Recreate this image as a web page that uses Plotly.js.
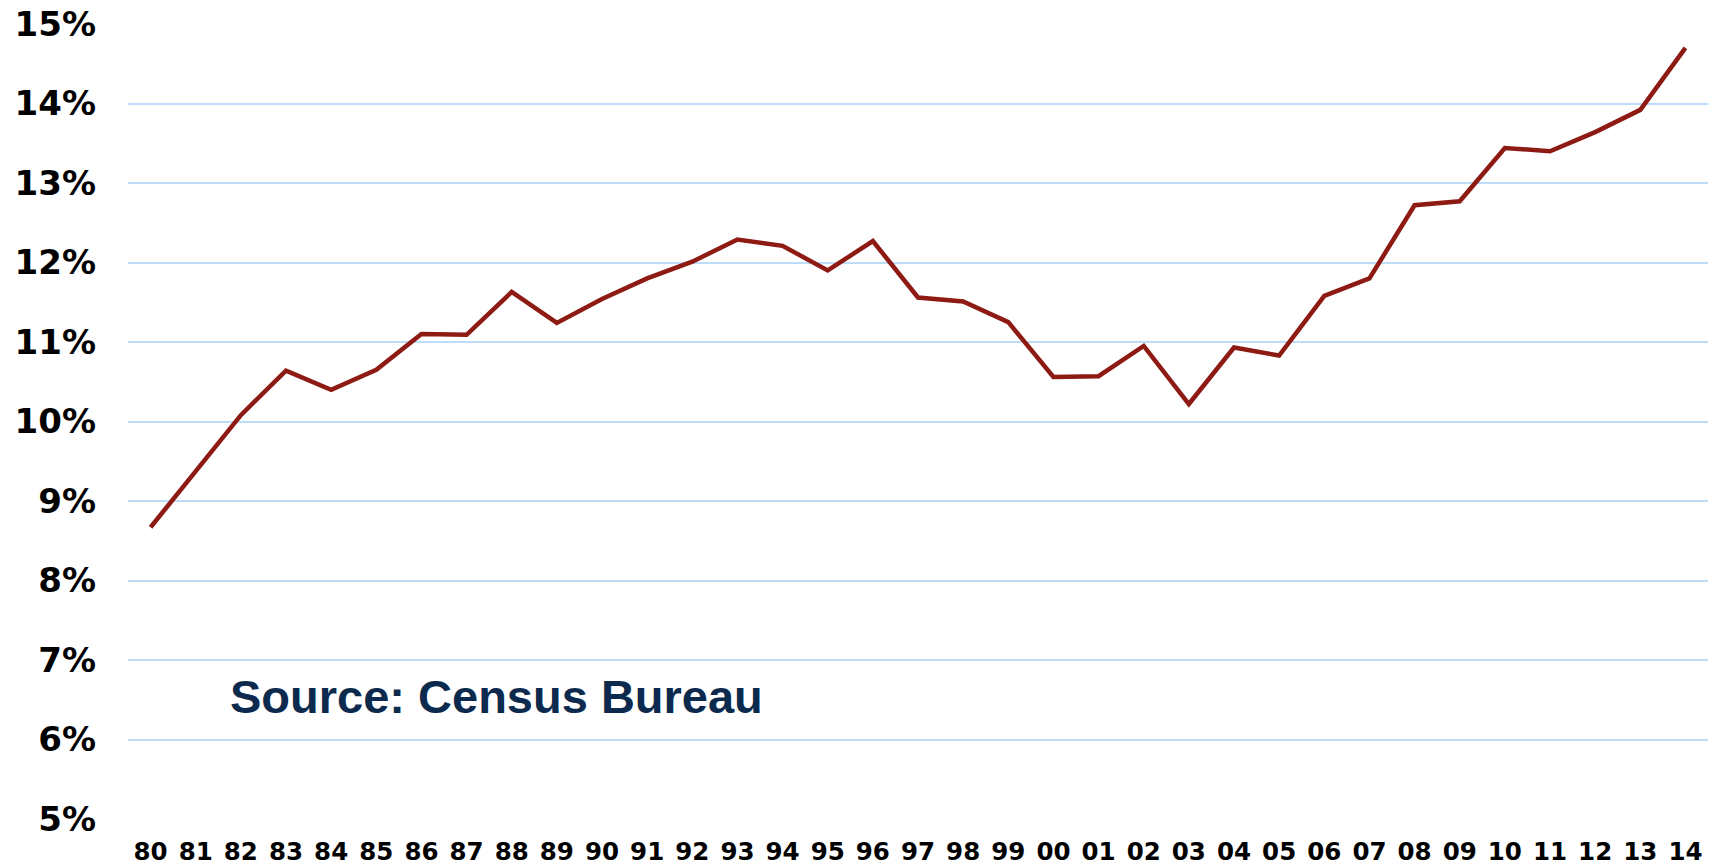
<!DOCTYPE html>
<html>
<head>
<meta charset="utf-8">
<script src="https://cdn.plot.ly/plotly-3.0.1.min.js"></script>
<style>
  html, body { margin: 0; padding: 0; background: #ffffff; }
  #chart { width: 1719px; height: 868px; }
</style>
</head>
<body>
<div id="chart"></div>
<script>
const years = ["80","81","82","83","84","85","86","87","88","89",
               "90","91","92","93","94","95","96","97","98","99",
               "00","01","02","03","04","05","06","07","08","09",
               "10","11","12","13","14"];
const values = [8.67, 9.38, 10.08, 10.64, 10.40, 10.65, 11.10, 11.09, 11.63, 11.24,
                11.54, 11.80, 12.01, 12.29, 12.21, 11.90, 12.27, 11.56, 11.51, 11.25,
                10.56, 10.57, 10.95, 10.22, 10.93, 10.83, 11.58, 11.80, 12.72, 12.77,
                13.44, 13.40, 13.64, 13.92, 14.70];
const yTicks = [5, 6, 7, 8, 9, 10, 11, 12, 13, 14, 15];
const yTickLabels = ["5%", "6%", "7%", "8%", "9%", "10%", "11%", "12%", "13%", "14%", "15%"];
const sourceNote = "Source: Census Bureau";

const trace = {
  x: years,
  y: values,
  type: "scatter",
  mode: "lines",
  line: { color: "#8E1A14", width: 4.5, shape: "linear" },
  hoverinfo: "x+y"
};

const layout = {
  width: 1719,
  height: 868,
  margin: { l: 128, r: 11, t: 24, b: 49, pad: 0 },
  paper_bgcolor: "#ffffff",
  plot_bgcolor: "#ffffff",
  showlegend: false,
  xaxis: {
    type: "category",
    categoryorder: "array",
    categoryarray: years,
    range: [-0.5, years.length - 0.5],
    showgrid: false,
    zeroline: false,
    showline: false,
    ticks: "",
    ticklabelstandoff: 15,
    tickfont: { family: "DejaVu Sans", size: 24.5, color: "#000000", weight: "bold" },
    fixedrange: true
  },
  yaxis: {
    range: [5, 15],
    tickmode: "array",
    tickvals: yTicks,
    ticktext: yTickLabels,
    showgrid: true,
    gridcolor: "#BEDDF8",
    gridwidth: 2,
    zeroline: false,
    showline: false,
    ticks: "",
    ticklabelstandoff: 31,
    tickfont: { family: "DejaVu Sans", size: 34, color: "#000000", weight: "bold" },
    fixedrange: true
  },
  annotations: [{
    text: "<b>" + sourceNote + "</b>",
    xref: "paper",
    yref: "paper",
    x: 0.0633,
    y: 0.1537,
    xanchor: "left",
    yanchor: "middle",
    showarrow: false,
    font: { family: "Liberation Sans, Arial, sans-serif", size: 47, color: "#0C2A4D" }
  }]
};

Plotly.newPlot("chart", [trace], layout, { displayModeBar: false, staticPlot: true });
</script>
</body>
</html>
